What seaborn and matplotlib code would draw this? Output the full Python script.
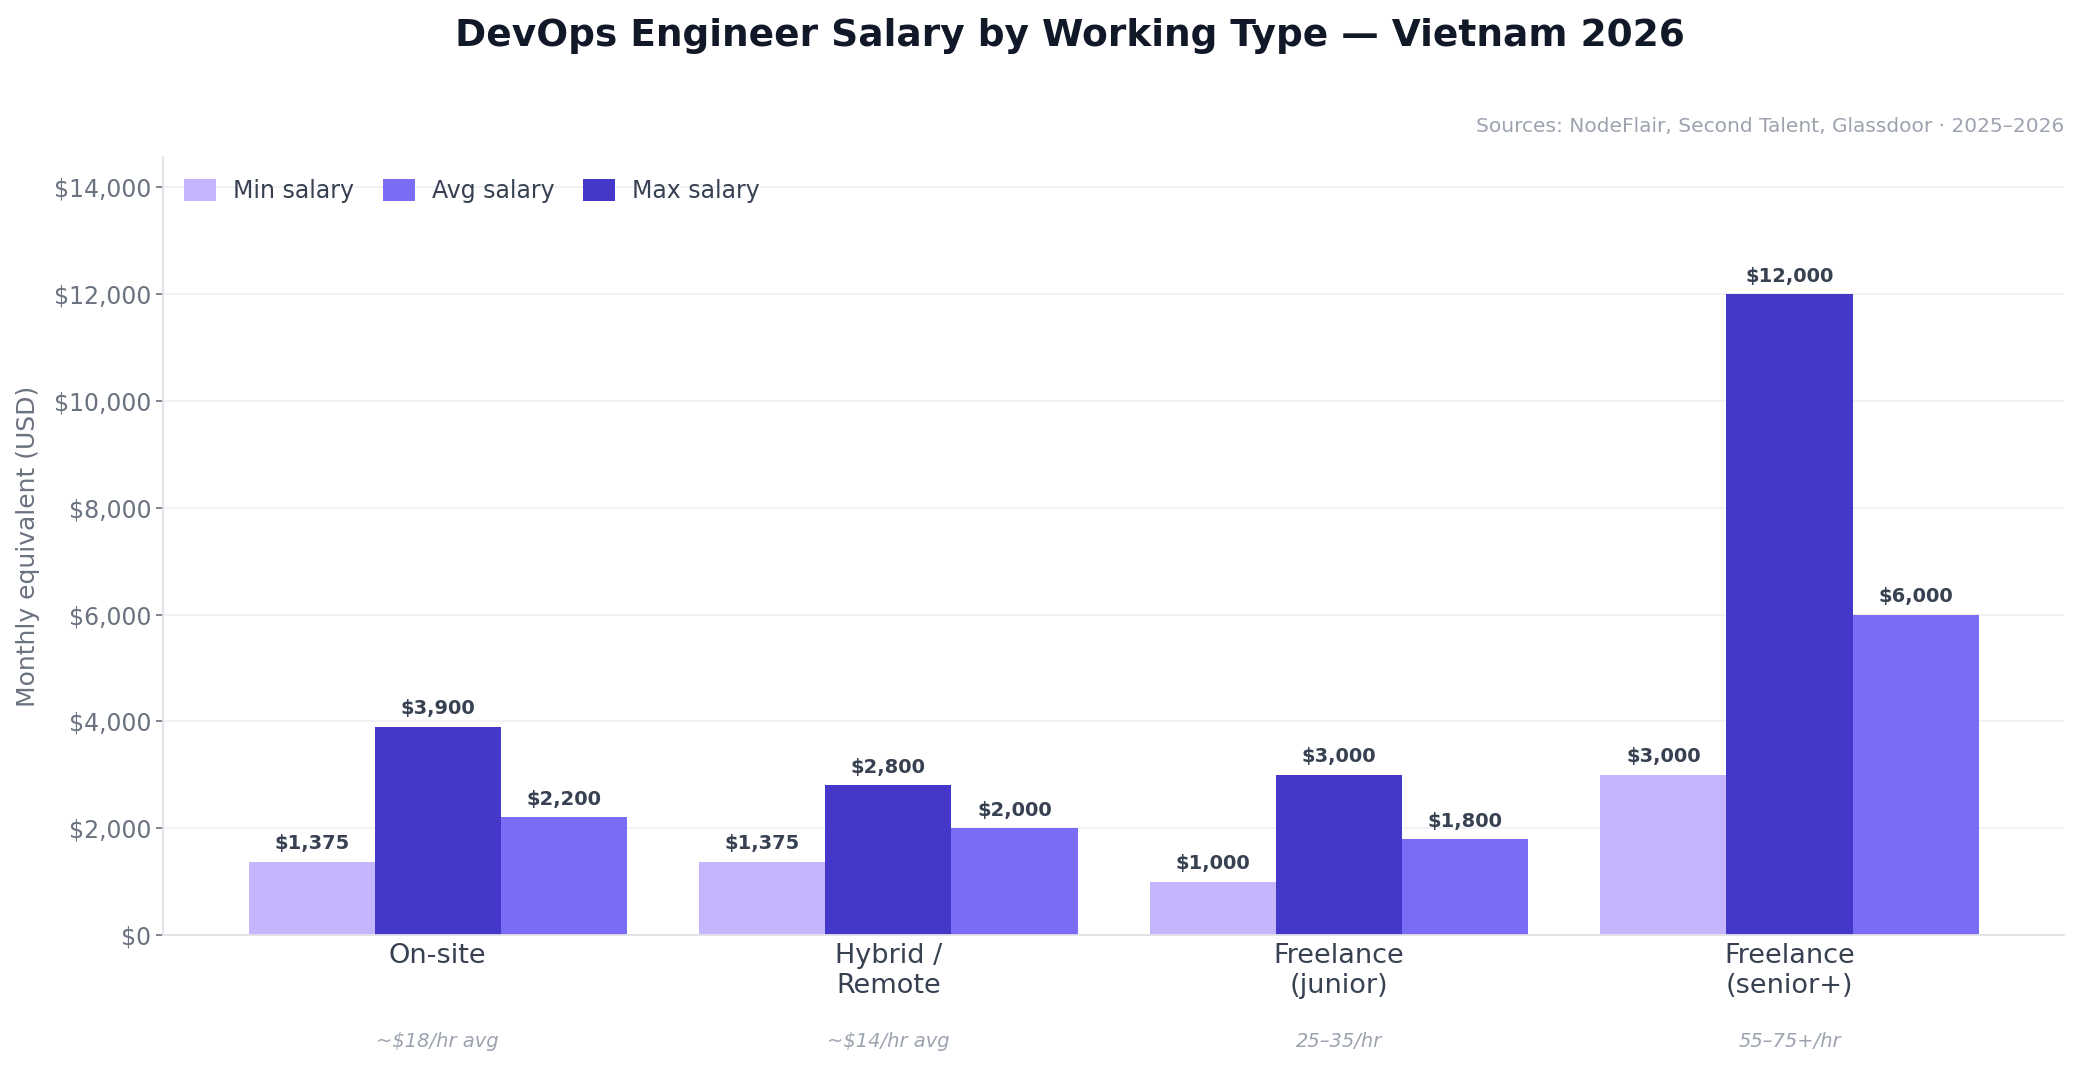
import numpy as np
import pandas as pd
import matplotlib
matplotlib.use("Agg")
import matplotlib.pyplot as plt
import matplotlib.transforms as mtransforms
from matplotlib.patches import Patch
from matplotlib.ticker import FuncFormatter
import seaborn as sns

# 1. Data
categories = ["On-site", "Hybrid /\nRemote", "Freelance\n(junior)", "Freelance\n(senior+)"]
hourly_notes = ["~$18/hr avg", "~$14/hr avg", "25–35/hr", "55–75+/hr"]
min_salary = [1375, 1375, 1000, 3000]
max_salary = [3900, 2800, 3000, 12000]
avg_salary = [2200, 2000, 1800, 6000]

series_order = ["Min salary", "Max salary", "Avg salary"]
legend_order = ["Min salary", "Avg salary", "Max salary"]
colors = {"Min salary": "#c4b5fd", "Avg salary": "#7b6cf5", "Max salary": "#4338ca"}

df = pd.DataFrame({
    "type": categories * 3,
    "series": ["Min salary"] * 4 + ["Max salary"] * 4 + ["Avg salary"] * 4,
    "salary": min_salary + max_salary + avg_salary,
})

# 2. Style
sns.set_theme(style="white")
plt.rcParams["font.family"] = ["DejaVu Sans"]

fig = plt.figure(figsize=(20.81, 10.71), dpi=100)
ax = fig.add_axes([0.0783, 0.127, 0.9137, 0.726])

sns.barplot(data=df, x="type", y="salary", hue="series", hue_order=series_order,
            palette=colors, width=0.84, linewidth=0, saturation=1,
            errorbar=None, legend=False, ax=ax)

# bar labels
for cont in ax.containers:
    ax.bar_label(cont, labels=[f"${v:,.0f}" for v in cont.datavalues],
                 padding=6, fontsize=14, fontweight="bold", color="#374151")

# 3. Axes
ax.set_xlim(-0.61, 3.61)
ax.set_ylim(0, 14560)
ax.set_yticks(np.arange(0, 14001, 2000))
ax.yaxis.set_major_formatter(FuncFormatter(lambda v, p: f"${v:,.0f}"))
ax.grid(axis="y", color="#f1f1f3", linewidth=1.3)
ax.set_axisbelow(True)
for s in ["top", "right"]:
    ax.spines[s].set_visible(False)
for s in ["left", "bottom"]:
    ax.spines[s].set_color("#e2e2e6")
    ax.spines[s].set_linewidth(1.3)

ax.tick_params(axis="y", labelsize=17, colors="#6b7280", length=5, width=1.2, left=True)
ax.tick_params(axis="x", labelsize=19.5, colors="#374151", length=0, pad=6)
for lbl in ax.get_yticklabels():
    lbl.set_color("#6b7280")
for lbl in ax.get_xticklabels():
    lbl.set_color("#374151")
ax.set_xlabel("")
ax.set_ylabel("Monthly equivalent (USD)", fontsize=18, color="#6b7280", labelpad=10)

# hourly notes under the categories
trans = mtransforms.blended_transform_factory(ax.transData, ax.transAxes)
for i, note in enumerate(hourly_notes):
    ax.text(i, -0.1375, note, transform=trans, ha="center", va="center",
            fontsize=14, style="italic", color="#9ca3af")

# legend (order differs from bar order)
handles = [Patch(facecolor=colors[k], edgecolor="none", label=k) for k in legend_order]
ax.legend(handles=handles, loc="upper left", ncol=3, frameon=False,
          fontsize=17, handlelength=1.35, handleheight=1.1, handletextpad=0.73,
          columnspacing=1.2, bbox_to_anchor=(0.0, 1.0), borderaxespad=0.5,
          labelcolor="#374151")

# 4. Titles
fig.text(0.514, 1 - 36 / 1071, "DevOps Engineer Salary by Working Type — Vietnam 2026",
         ha="center", va="center", fontsize=27, fontweight="bold", color="#111827")
fig.text(2064 / 2081, 1 - 126 / 1071,
         "Sources: NodeFlair, Second Talent, Glassdoor · 2025–2026",
         ha="right", va="center", fontsize=14.5, color="#9ca3af")

fig.savefig("out.png", dpi=100)
plt.close()
